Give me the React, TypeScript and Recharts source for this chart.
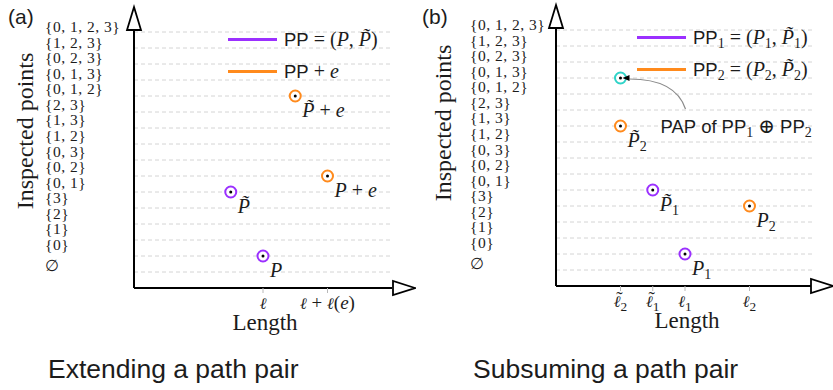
import React from 'react';
import { ScatterChart, Scatter, XAxis, YAxis, ReferenceLine, Legend } from 'recharts';

const SERIF = '"Liberation Serif", "DejaVu Serif", serif';
const ELL_SERIF = '"DejaVu Serif", serif';
const SANS = '"Liberation Sans", Arial, sans-serif';
const INK = '#1c1c1c';
const PURPLE = '#9b30ff';
const ORANGE = '#ff8a1c';
const CYAN = '#2fd3c8';

// ---- shared category axis ----
const yCategories = [
  '\u2205', '{0}', '{1}', '{2}', '{3}',
  '{0, 1}', '{0, 2}', '{0, 3}', '{1, 2}', '{1, 3}', '{2, 3}',
  '{0, 1, 2}', '{0, 1, 3}', '{0, 2, 3}', '{1, 2, 3}', '{0, 1, 2, 3}',
];
const yTicks = yCategories.map((_, i) => i);
const Y_MIN = -1;
const Y_MAX = 16.5625;
const GRID_END = 4;
const Y_ARROW_BASE = 15.12;

// ---- panel (a) ----
const aXTicks = [2, 3];
const aXTickLabels = ['\u2113', '\u2113 + \u2113(e)'];
const aPathPair = [
  { x: 2, y: 1, label: 'P' },
  { x: 1.5, y: 5, label: 'P\u0303' },
];
const aExtended = [
  { x: 3, y: 6, label: 'P + e' },
  { x: 2.5, y: 11, label: 'P\u0303 + e' },
];
const aSeriesNames = ['PP = (P, P\u0303)', 'PP + e'];

// ---- panel (b) ----
const bXTicks = [1, 1.5, 2, 3];
const bXTickLabels = ['\u2113\u0303_2', '\u2113\u0303_1', '\u2113_1', '\u2113_2'];
const bPathPair1 = [
  { x: 2, y: 1, label: 'P_1' },
  { x: 1.5, y: 5, label: 'P\u0303_1' },
];
const bPathPair2 = [
  { x: 3, y: 4, label: 'P_2' },
  { x: 1, y: 9, label: 'P\u0303_2' },
];
const bPap = [{ x: 1, y: 12, label: 'PAP of PP_1 \u2295 PP_2' }];
const bSeriesNames = ['PP_1 = (P_1, P\u0303_1)', 'PP_2 = (P_2, P\u0303_2)'];

// ---- tiny math-ish text renderer ----
type Tok = { kind: 'sans' | 'ital' | 'sub' | 'rm' | 'sp'; text: string };
function tokenize(s: string): Tok[] {
  const re = /([A-Za-z]{2,})|([A-Za-z\u2113]\u0303?)|_(\d)|(\s+)|(\S)/gu;
  const out: Tok[] = [];
  let m: RegExpExecArray | null;
  while ((m = re.exec(s))) {
    if (m[1]) out.push({ kind: 'sans', text: m[1] });
    else if (m[2]) out.push({ kind: 'ital', text: m[2] });
    else if (m[3]) out.push({ kind: 'sub', text: m[3] });
    else if (m[4]) out.push({ kind: 'sp', text: m[4] });
    else out.push({ kind: 'rm', text: m[5] });
  }
  return out;
}

function tokFont(t: Tok, size: number, sansSize: number) {
  if (t.kind === 'sans') return { fontFamily: SANS, fontSize: sansSize, fontStyle: 'normal' };
  if (t.kind === 'ital') {
    const isEll = t.text.startsWith('\u2113');
    return { fontFamily: isEll ? ELL_SERIF : SERIF, fontSize: isEll ? size * 0.85 : size, fontStyle: 'italic' };
  }
  if (t.kind === 'sub') return { fontFamily: SERIF, fontSize: size * 0.7, fontStyle: 'normal' };
  return { fontFamily: SERIF, fontSize: size, fontStyle: 'normal' };
}

function MathSvg(props: { s: string; x: number; y: number; size?: number; sansSize?: number; anchor?: string }) {
  const size = props.size ?? 19;
  const sansSize = props.sansSize ?? 18;
  const toks = tokenize(props.s);
  const shift = size * 0.22;
  let sub = false;
  let pendDx = 0;
  let pendDy = 0;
  const spans: React.ReactNode[] = [];
  toks.forEach((t, i) => {
    let dy = pendDy;
    const dx = pendDx;
    pendDx = 0; pendDy = 0;
    if (t.kind === 'sub' && !sub) { dy += shift; sub = true; }
    else if (t.kind !== 'sub' && sub) { dy -= shift; sub = false; }
    const f = tokFont(t, size, sansSize);
    const manualTilde = t.kind === 'ital' && t.text === '\u2113\u0303';
    const base = manualTilde ? '\u2113' : t.text;
    spans.push(
      <tspan key={`${i}b`} dx={dx || undefined} dy={dy || undefined} fontFamily={f.fontFamily} fontSize={f.fontSize} fontStyle={f.fontStyle}>
        {base}
      </tspan>
    );
    if (manualTilde) {
      const fs = f.fontSize;
      const wb = 0.42 * fs;
      const wt = 0.333 * size;
      const slant = 0.14 * fs;
      const tdx = -(wb / 2 + wt / 2 - slant);
      const raise = 0.1 * fs;
      spans.push(
        <tspan key={`${i}t`} dx={tdx} dy={-raise} fontFamily={SERIF} fontSize={size} fontStyle="normal">
          {'\u02DC'}
        </tspan>
      );
      pendDx = -(tdx + wt);
      pendDy = raise;
    }
  });
  return (
    <text x={props.x} y={props.y} textAnchor={props.anchor ?? 'start'} fill={INK} style={{ whiteSpace: 'pre' }}>
      {spans}
    </text>
  );
}

function MathHtml(props: { s: string; size?: number; sansSize?: number }) {
  const size = props.size ?? 19;
  const sansSize = props.sansSize ?? 18;
  const toks = tokenize(props.s);
  return (
    <span style={{ whiteSpace: 'pre', color: INK, lineHeight: 1 }}>
      {toks.map((t, i) => {
        const f = tokFont(t, size, sansSize);
        const st: React.CSSProperties = { fontFamily: f.fontFamily, fontSize: f.fontSize, fontStyle: f.fontStyle as any };
        if (t.kind === 'sub') { st.position = 'relative'; st.top = size * 0.22; }
        return <span key={i} style={st}>{t.text}</span>;
      })}
    </span>
  );
}

// ---- shapes ----
const makeMarker = (color: string, annotate = false) => (props: any) => {
  const { cx, cy } = props;
  if (cx == null || cy == null) return <g />;
  const label: string = props.payload?.label ?? props.label ?? '';
  return (
    <g>
      <circle cx={cx} cy={cy} r={5.5} fill="#fff" stroke={color} strokeWidth={2} />
      <circle cx={cx} cy={cy} r={1.5} fill="#000" />
      {annotate ? (
        <g>
          <path d={`M ${cx + 65} ${cy + 31} Q ${cx + 55} ${cy + 1} ${cx + 9} ${cy + 1}`} fill="none" stroke="#8a8a8a" strokeWidth={1.2} />
          <path d={`M ${cx + 2} ${cy} L ${cx + 9} ${cy - 3} L ${cx + 9} ${cy + 3} Z`} fill="#000" />
          <MathSvg s={label} x={cx + 40} y={cy + 55} size={20} sansSize={18.5} />
        </g>
      ) : (
        <MathSvg s={label} x={cx + 7} y={cy + 21} size={20} />
      )}
    </g>
  );
};

const UpArrow = (props: any) => {
  const { cx, cy } = props;
  if (cx == null) return <g />;
  return <path d={`M ${cx} ${cy} L ${cx + 7} ${cy + 23} L ${cx - 7} ${cy + 23} Z`} fill="#fff" stroke="#000" strokeWidth={1.8} strokeLinejoin="miter" />;
};
const RightArrow = (props: any) => {
  const { cx, cy } = props;
  if (cx == null) return <g />;
  return <path d={`M ${cx} ${cy} L ${cx - 22} ${cy - 7} L ${cx - 22} ${cy + 7} Z`} fill="#fff" stroke="#000" strokeWidth={1.8} />;
};

const makeLegend = (order: string[]) => (props: any) => {
  const items = (props.payload || [])
    .filter((e: any) => e.type !== 'none' && order.includes(String(e.value)))
    .slice()
    .sort((a: any, b: any) => order.indexOf(String(a.value)) - order.indexOf(String(b.value)));
  return (
    <div>
      {items.map((e: any, i: number) => (
        <div key={i} style={{ display: 'flex', alignItems: 'center', height: 32 }}>
          <div style={{ width: 49, height: 3, background: e.color, marginRight: 7 }} />
          <MathHtml s={String(e.value)} size={20} sansSize={18.5} />
        </div>
      ))}
    </div>
  );
};

type Series = { name: string; color: string; data: { x: number; y: number; label: string }[]; legend: boolean; annotate?: boolean };

type PanelCfg = {
  left: number; width: number; top: number; bottom: number; right: number;
  axisX: number; xMax: number;
  xTicks: number[]; xTickLabels: string[];
  series: Series[];
  legendPos: { left: number; top: number };
  yLabel: { x: number; y: number };
  tickLabelX: number;
};

function labelShift(i: number) {
  if (i === 0) return -6;
  return -5 - (15 - i) * 0.43;
}

function Panel(p: PanelCfg) {
  const XTick = (tp: any) => {
    const idx = p.xTicks.indexOf(tp.payload?.value);
    if (idx < 0) return <g />;
    return <MathSvg s={p.xTickLabels[idx]} x={tp.x} y={tp.y + 14} size={19} anchor="middle" />;
  };
  const YTick = (tp: any) => {
    const i = tp.payload?.value as number;
    const txt = yCategories[i];
    if (txt == null) return <g />;
    return (
      <text x={p.tickLabelX} y={tp.y + labelShift(i) + 5} fontFamily={SERIF} fontSize={15.5} letterSpacing={0.5} fill={INK} textAnchor="start">
        {txt}
      </text>
    );
  };
  const lengthLabel = (lp: any) => {
    const vb = lp.viewBox || {};
    return (
      <text x={(vb.x ?? 0) + 131} y={(vb.y ?? 0) + 42} fontFamily={SERIF} fontSize={23} fill={INK} textAnchor="middle">
        Length
      </text>
    );
  };
  const yLabel = () => (
    <text x={p.yLabel.x} y={p.yLabel.y} transform={`rotate(-90 ${p.yLabel.x} ${p.yLabel.y})`} fontFamily={SERIF} fontSize={24} fill={INK} textAnchor="middle" dominantBaseline="central">
      Inspected points
    </text>
  );
  const legendOrder = p.series.filter((s) => s.legend).map((s) => s.name);
  return (
    <div style={{ position: 'absolute', left: p.left, top: 0 }}>
      <ScatterChart width={p.width} height={390} margin={{ top: p.top, right: p.right, bottom: p.bottom, left: 0 }}>
        <XAxis type="number" dataKey="x" domain={[0, p.xMax]} ticks={p.xTicks} interval={0} height={60}
          axisLine={false} tickLine={{ stroke: '#b8b8b8' }} tickSize={5} tick={XTick} label={lengthLabel} />
        <YAxis type="number" dataKey="y" domain={[Y_MIN, Y_MAX]} ticks={yTicks} interval={0} width={p.axisX}
          axisLine={false} tickLine={false} tick={YTick} label={yLabel} />
        {yTicks.map((i) => (
          <ReferenceLine key={i} segment={[{ x: 0, y: i }, { x: GRID_END, y: i }]} stroke="#d4d4d4" strokeDasharray="4 3" strokeWidth={1} />
        ))}
        <ReferenceLine segment={[{ x: 0, y: Y_MIN }, { x: 0, y: Y_ARROW_BASE }]} stroke="#000" strokeWidth={2} />
        <ReferenceLine segment={[{ x: 0, y: Y_MIN }, { x: GRID_END, y: Y_MIN }]} stroke="#000" strokeWidth={2} />
        <Scatter data={[{ x: 0, y: Y_MAX }]} shape={UpArrow} legendType="none" isAnimationActive={false} />
        <Scatter data={[{ x: p.xMax, y: Y_MIN }]} shape={RightArrow} legendType="none" isAnimationActive={false} />
        {p.series.map((s, i) => (
          <Scatter key={i} name={s.name} data={s.data} fill={s.color}
            shape={makeMarker(s.color, s.annotate)} legendType={s.legend ? 'line' : 'none'} isAnimationActive={false} />
        ))}
        <Legend layout="vertical" align="center" verticalAlign="middle" content={makeLegend(legendOrder)}
          wrapperStyle={{ left: p.legendPos.left, top: p.legendPos.top, width: 220, height: 64 }} />
      </ScatterChart>
    </div>
  );
}

export default function App() {
  const textBase: React.CSSProperties = { position: 'absolute', fontFamily: SANS, color: INK, whiteSpace: 'nowrap' };
  return (
    <div style={{ position: 'absolute', left: 0, top: 0, width: 833, height: 390, background: '#fff', overflow: 'hidden' }}>
      <Panel
        left={0} width={416} top={7} bottom={42} right={1} axisX={134} xMax={281 / 64.5}
        xTicks={aXTicks} xTickLabels={aXTickLabels}
        series={[
          { name: aSeriesNames[0], color: PURPLE, data: aPathPair, legend: true },
          { name: aSeriesNames[1], color: ORANGE, data: aExtended, legend: true },
        ]}
        legendPos={{ left: 228, top: 23 }} yLabel={{ x: 25, y: 131 }} tickLabelX={45}
      />
      <Panel
        left={420} width={413} top={5} bottom={44} right={0} axisX={136} xMax={277 / 64.5}
        xTicks={bXTicks} xTickLabels={bXTickLabels}
        series={[
          { name: bSeriesNames[0], color: PURPLE, data: bPathPair1, legend: true },
          { name: bSeriesNames[1], color: ORANGE, data: bPathPair2, legend: true },
          { name: 'PAP', color: CYAN, data: bPap, legend: false, annotate: true },
        ]}
        legendPos={{ left: 217, top: 21 }} yLabel={{ x: 23, y: 123 }} tickLabelX={50}
      />
      <div style={{ ...textBase, left: 8, top: 6, fontSize: 21, lineHeight: '21px' }}>(a)</div>
      <div style={{ ...textBase, left: 422, top: 6, fontSize: 21, lineHeight: '21px' }}>(b)</div>
      <div style={{ ...textBase, left: 48, top: 356, fontSize: 26.5, lineHeight: '26px' }}>Extending a path pair</div>
      <div style={{ ...textBase, left: 473, top: 356, fontSize: 26.5, lineHeight: '26px' }}>Subsuming a path pair</div>
    </div>
  );
}
